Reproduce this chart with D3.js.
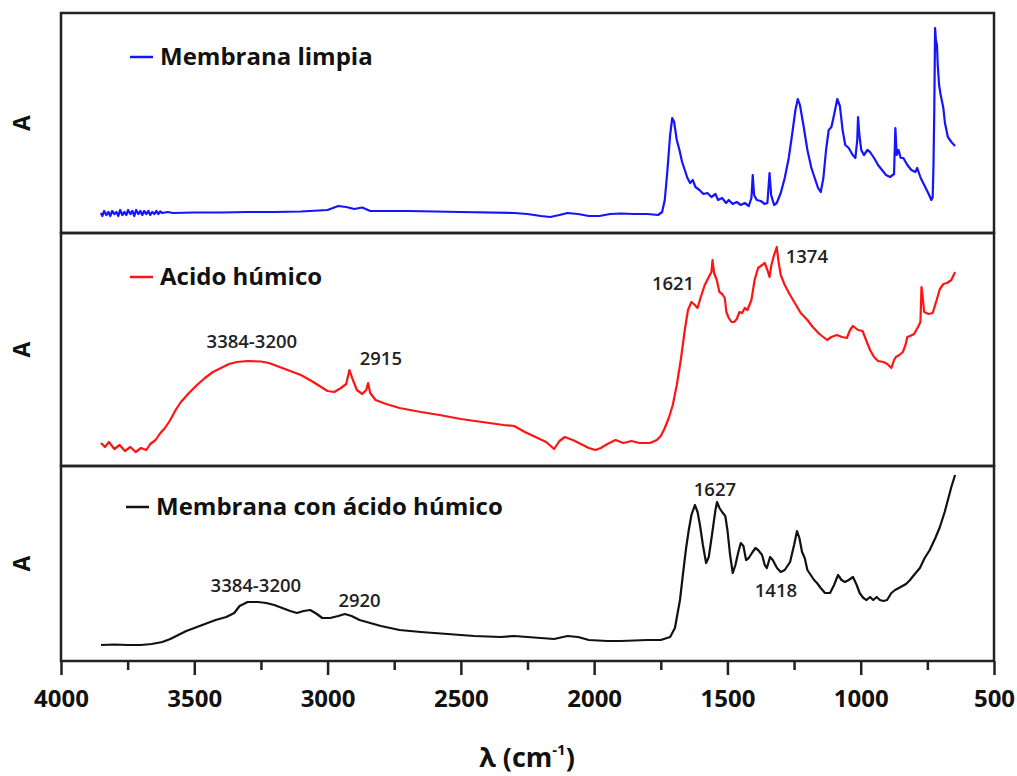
<!DOCTYPE html>
<html><head><meta charset="utf-8">
<script src="https://cdn.jsdelivr.net/npm/d3@7"></script>
<style>body{margin:0;background:#fff}svg{display:block}</style>
</head><body>
<svg id="c" width="1017" height="776"></svg>
<script>
// ---- DATA (wavenumber cm-1, absorbance a.u. offset within each panel) ----
const seriesNames = ["Membrana limpia", "Acido húmico", "Membrana con ácido húmico"];
const seriesColors = ["#1414ff", "#ff1414", "#111111"];
const xTicks = [4000, 3500, 3000, 2500, 2000, 1500, 1000, 500];
const xMinorTicks = [3750, 3250, 2750, 2250, 1750, 1250, 750];

const membranaLimpia = [
[3850,0.20],[3845,0.17],[3838,0.22],[3830,0.18],[3822,0.21],[3815,0.17],[3808,0.22],[3800,0.19],[3792,0.21],[3785,0.17],[3778,0.23],[3770,0.18],[3762,0.21],[3755,0.18],[3748,0.23],[3740,0.19],[3732,0.22],[3725,0.17],[3718,0.23],[3710,0.19],[3702,0.22],[3695,0.18],[3688,0.22],[3680,0.19],[3672,0.22],[3665,0.18],[3658,0.21],[3650,0.19],[3642,0.22],[3635,0.19],[3628,0.215],[3620,0.20],[3600,0.21],[3580,0.20],
[3500,0.205],[3400,0.205],[3300,0.21],[3200,0.21],[3100,0.215],[3000,0.23],[2960,0.27],[2930,0.26],[2900,0.24],[2870,0.255],[2840,0.22],
[2700,0.22],[2500,0.21],[2300,0.20],[2250,0.19],[2200,0.17],[2165,0.16],[2130,0.18],[2100,0.20],[2060,0.19],[2020,0.17],[1980,0.17],[1940,0.19],[1900,0.195],[1850,0.19],[1800,0.19],[1760,0.18],
[1745,0.21],[1735,0.33],[1725,0.63],[1715,0.98],[1707,1.15],[1700,1.11],[1690,0.93],[1680,0.83],[1670,0.71],[1660,0.63],[1650,0.55],[1640,0.50],[1630,0.53],[1620,0.46],[1605,0.43],[1590,0.39],[1575,0.40],[1560,0.36],[1545,0.39],[1535,0.33],[1520,0.35],[1505,0.30],[1495,0.33],[1480,0.29],[1465,0.31],[1450,0.28],[1435,0.30],[1420,0.27],[1410,0.35],[1405,0.58],[1400,0.38],[1390,0.33],[1375,0.32],[1360,0.29],[1350,0.30],[1342,0.60],[1336,0.38],[1325,0.28],[1315,0.30],[1300,0.40],[1285,0.55],[1270,0.75],[1255,1.03],[1245,1.23],[1236,1.34],[1228,1.28],[1215,1.08],[1200,0.83],[1185,0.65],[1170,0.53],[1160,0.45],[1150,0.41],[1140,0.55],[1130,0.83],[1120,1.03],[1110,1.06],[1100,1.18],[1088,1.34],[1078,1.27],[1068,1.03],[1058,0.88],[1045,0.85],[1030,0.78],[1020,0.75],[1013,0.93],[1010,1.16],[1005,0.98],[998,0.83],[988,0.78],[975,0.83],[965,0.81],[950,0.75],[935,0.68],[920,0.63],[905,0.58],[890,0.56],[875,0.59],[870,1.05],[865,0.78],[858,0.83],[850,0.75],[840,0.75],[825,0.68],[810,0.63],[795,0.61],[788,0.65],[775,0.55],[760,0.47],[745,0.39],[735,0.33],[730,0.36],[727,0.68],[724,1.23],[721,2.05],[718,1.93],[714,1.88],[711,1.68],[706,1.48],[700,1.38],[690,1.25],[684,1.10],[673,0.96],[660,0.91],[646,0.87]
];

const acidoHumico = [
[3850,0.23],[3835,0.19],[3820,0.24],[3800,0.17],[3780,0.21],[3760,0.15],[3740,0.19],[3720,0.14],[3700,0.18],[3680,0.16],[3665,0.22],[3645,0.26],[3630,0.32],[3610,0.38],[3590,0.46],[3570,0.56],[3550,0.64],[3520,0.73],[3490,0.81],[3460,0.88],[3430,0.94],[3400,0.98],[3370,1.02],[3340,1.04],[3300,1.05],[3250,1.045],[3220,1.03],[3180,0.99],[3140,0.95],[3100,0.91],[3060,0.85],[3030,0.80],[3000,0.75],[2975,0.74],[2950,0.78],[2930,0.82],[2918,0.96],[2905,0.86],[2890,0.76],[2870,0.72],[2855,0.76],[2848,0.83],[2840,0.73],[2820,0.66],[2780,0.62],[2730,0.58],[2650,0.54],[2580,0.51],[2500,0.47],[2420,0.44],[2340,0.41],[2300,0.40],[2260,0.34],[2220,0.29],[2180,0.24],[2150,0.17],[2130,0.25],[2110,0.29],[2080,0.26],[2050,0.22],[2020,0.18],[1995,0.16],[1975,0.18],[1950,0.22],[1920,0.26],[1890,0.23],[1860,0.25],[1830,0.23],[1790,0.23],[1765,0.26],[1750,0.30],[1735,0.38],[1720,0.48],[1705,0.61],[1690,0.81],[1675,1.06],[1660,1.36],[1648,1.56],[1635,1.64],[1622,1.61],[1612,1.58],[1600,1.69],[1585,1.81],[1570,1.89],[1560,1.94],[1556,2.06],[1550,1.93],[1540,1.86],[1530,1.74],[1520,1.72],[1510,1.68],[1504,1.54],[1495,1.48],[1485,1.44],[1475,1.44],[1465,1.47],[1455,1.54],[1445,1.53],[1435,1.58],[1425,1.56],[1410,1.66],[1398,1.86],[1385,1.98],[1370,2.01],[1360,2.03],[1350,1.96],[1342,1.89],[1335,2.01],[1325,2.11],[1315,2.19],[1308,2.04],[1300,1.91],[1285,1.81],[1265,1.71],[1245,1.62],[1225,1.53],[1200,1.46],[1180,1.39],[1155,1.32],[1126,1.26],[1110,1.29],[1090,1.31],[1070,1.29],[1052,1.28],[1040,1.36],[1029,1.40],[1010,1.36],[993,1.35],[980,1.26],[965,1.16],[950,1.09],[935,1.05],[915,1.04],[900,1.02],[885,0.98],[875,1.06],[868,1.09],[855,1.11],[842,1.14],[832,1.21],[825,1.29],[815,1.30],[800,1.32],[785,1.39],[776,1.44],[772,1.79],[768,1.70],[762,1.54],[745,1.52],[730,1.53],[715,1.66],[703,1.77],[690,1.82],[676,1.83],[660,1.86],[646,1.94]
];

const membranaConAcido = [
[3850,0.16],[3800,0.165],[3750,0.16],[3700,0.16],[3660,0.17],[3620,0.19],[3590,0.22],[3560,0.26],[3530,0.30],[3500,0.33],[3460,0.37],[3420,0.41],[3380,0.44],[3350,0.48],[3330,0.55],[3300,0.59],[3260,0.59],[3230,0.58],[3200,0.56],[3170,0.53],[3140,0.50],[3115,0.48],[3090,0.50],[3065,0.51],[3040,0.47],[3020,0.43],[2990,0.43],[2960,0.45],[2935,0.47],[2910,0.45],[2880,0.41],[2840,0.38],[2800,0.35],[2730,0.31],[2650,0.29],[2550,0.27],[2450,0.25],[2350,0.24],[2300,0.25],[2200,0.23],[2150,0.22],[2100,0.25],[2060,0.24],[2020,0.21],[1950,0.20],[1900,0.20],[1800,0.21],[1750,0.21],[1715,0.24],[1697,0.33],[1678,0.61],[1665,0.91],[1655,1.13],[1645,1.31],[1635,1.46],[1622,1.56],[1612,1.49],[1603,1.36],[1592,1.16],[1580,0.98],[1570,1.04],[1558,1.26],[1545,1.51],[1539,1.59],[1530,1.53],[1520,1.49],[1508,1.45],[1500,1.31],[1490,1.06],[1480,0.88],[1470,0.96],[1460,1.08],[1450,1.18],[1440,1.15],[1430,1.01],[1420,1.03],[1408,1.08],[1395,1.13],[1385,1.11],[1370,1.06],[1360,0.96],[1352,0.93],[1340,1.04],[1330,1.01],[1314,0.93],[1300,0.89],[1285,0.91],[1265,0.99],[1250,1.16],[1239,1.30],[1230,1.23],[1220,1.09],[1210,1.03],[1200,0.91],[1190,0.87],[1175,0.81],[1164,0.78],[1150,0.73],[1134,0.68],[1115,0.68],[1100,0.76],[1085,0.86],[1072,0.81],[1059,0.79],[1045,0.81],[1029,0.84],[1015,0.76],[1004,0.68],[990,0.63],[978,0.61],[965,0.64],[953,0.61],[940,0.64],[928,0.61],[915,0.60],[901,0.61],[885,0.68],[871,0.71],[850,0.74],[830,0.77],[815,0.81],[800,0.86],[778,0.93],[760,1.03],[741,1.11],[720,1.23],[703,1.34],[685,1.49],[673,1.61],[660,1.74],[646,1.86]
];

const annotations = [
 {panel:1, text:"3384-3200", wn:3284, a:1.18},
 {panel:1, text:"2915", wn:2800, a:1.01},
 {panel:1, text:"1621", wn:1704, a:1.76},
 {panel:1, text:"1374", wn:1202, a:2.03},
 {panel:2, text:"3384-3200", wn:3269, a:0.69},
 {panel:2, text:"2920", wn:2880, a:0.54},
 {panel:2, text:"1627", wn:1547, a:1.65},
 {panel:2, text:"1418", wn:1318, a:0.64}
];

// ---- LAYOUT ----
const svg = d3.select("#c");
const font = "'Open Sans', 'Lato', sans-serif";
const x = d3.scaleLinear().domain([4000, 500]).range([61, 994]);
const panels = [
  {top:13, bottom:233, legendY:57, legendX:130},
  {top:233, bottom:466, legendY:277, legendX:130},
  {top:466, bottom:661, legendY:507, legendX:126}
];
const allSeries = [membranaLimpia, acidoHumico, membranaConAcido];

panels.forEach((p, i) => {
  const y = d3.scaleLinear().domain([0, (p.bottom - p.top) / 100]).range([p.bottom, p.top]);
  p.y = y;
  const line = d3.line().x(d => x(d[0])).y(d => y(d[1]));
  svg.append("path").datum(allSeries[i])
    .attr("fill", "none").attr("stroke", seriesColors[i])
    .attr("stroke-width", 2.2).attr("stroke-linejoin", "round")
    .attr("d", line);
  // legend
  svg.append("line").attr("x1", p.legendX).attr("x2", p.legendX + 23)
    .attr("y1", p.legendY).attr("y2", p.legendY)
    .attr("stroke", seriesColors[i]).attr("stroke-width", 2.5);
  svg.append("text").attr("x", p.legendX + 30).attr("y", p.legendY + 8)
    .attr("font-family", font).attr("font-weight", "bold").attr("font-size", 24)
    .attr("fill", "#111").text(seriesNames[i]);
  // y label
  svg.append("text")
    .attr("transform", `translate(30,${(p.top + p.bottom) / 2}) rotate(-90)`)
    .attr("text-anchor", "middle")
    .attr("font-family", font).attr("font-weight", "bold").attr("font-size", 23)
    .attr("fill", "#111").text("A");
});

// annotations
annotations.forEach(a => {
  const p = panels[a.panel];
  svg.append("text").attr("x", x(a.wn)).attr("y", p.y(a.a))
    .attr("text-anchor", "middle")
    .attr("font-family", font).attr("font-size", 18.5).attr("font-weight", 600)
    .attr("fill", "#222").text(a.text);
});

// frames
panels.forEach(p => {
  svg.append("rect").attr("x", 61).attr("y", p.top)
    .attr("width", 994 - 61).attr("height", p.bottom - p.top)
    .attr("fill", "none").attr("stroke", "#222").attr("stroke-width", 2.5);
});

// x axis
const axis = d3.axisBottom(x).tickValues(xTicks).tickSize(14).tickPadding(15)
  .tickFormat(d3.format("d"));
const gx = svg.append("g").attr("transform", "translate(0,661)").call(axis);
gx.select(".domain").remove();
gx.selectAll(".tick line").attr("stroke", "#222").attr("stroke-width", 2.5);
gx.selectAll(".tick text").attr("font-family", font).attr("font-weight", "bold")
  .attr("font-size", 24).attr("fill", "#111");
const minor = d3.axisBottom(x).tickValues(xMinorTicks).tickSize(9).tickFormat("");
const gm = svg.append("g").attr("transform", "translate(0,661)").call(minor);
gm.select(".domain").remove();
gm.selectAll(".tick line").attr("stroke", "#222").attr("stroke-width", 2.5);

// x title
const t = svg.append("text").attr("x", 527).attr("y", 767).attr("text-anchor", "middle")
  .attr("font-family", font).attr("font-weight", "bold").attr("font-size", 27).attr("fill", "#111");
t.append("tspan").text("λ (cm");
t.append("tspan").attr("dy", -12).attr("font-size", 15).text("-1");
t.append("tspan").attr("dy", 12).text(")");
</script>
</body></html>
